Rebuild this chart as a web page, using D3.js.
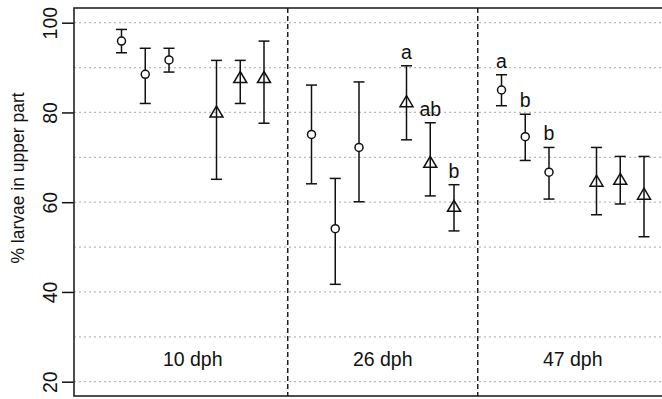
<!DOCTYPE html>
<html>
<head>
<meta charset="utf-8">
<script src="https://cdn.jsdelivr.net/npm/d3@7"></script>
<style>
  html, body { margin: 0; padding: 0; background: #fff; }
  svg { display: block; font-family: "Liberation Sans", Arial, Helvetica, sans-serif; }
</style>
</head>
<body>
<div id="chart"></div>
<script>
// ages (groups) along the x axis
const groups = ['10 dph', '26 dph', '47 dph'];

// circles (first three treatments in each group)
const circleMean  = [[95.9, 88.5, 91.7], [75.1, 54.1, 72.2], [85.0, 74.6, 66.7]];
const circleUpper = [[98.5, 94.3, 94.3], [86.1, 65.3, 86.8], [88.4, 79.6, 72.2]];
const circleLower = [[93.3, 82.0, 89.0], [64.1, 41.7, 60.1], [81.5, 69.3, 60.7]];

// triangles (last three treatments in each group)
const triMean  = [[80.2, 87.9, 87.9], [82.5, 69.0, 59.2], [64.8, 65.2, 61.9]];
const triUpper = [[91.6, 91.6, 95.9], [90.4, 77.7, 63.9], [72.2, 70.2, 70.2]];
const triLower = [[65.1, 82.0, 77.6], [73.9, 61.4, 53.6], [57.2, 59.6, 52.3]];

// significance letters ('' = none)
const circleLetters = [['', '', ''], ['', '', ''], ['a', 'b', 'b']];
const triLetters    = [['', '', ''], ['a', 'ab', 'b'], ['', '', '']];

const yTicks = [20, 40, 60, 80, 100];
const yGrid = [20, 30, 40, 50, 60, 70, 80, 90, 100];

const width = 662;
const height = 399;
const plot = { left: 74, top: 8, bottom: 396 };
const fontSize = 19.5;

const svg = d3.select('#chart')
    .append('svg')
    .attr('width', width)
    .attr('height', height);

// slot positions: 8 slots per group, circles at 1-3, triangles at 5-7
const xScale = d3.scaleLinear().domain([-1, 25]).range([plot.left, plot.left + 26 * 23.75]);
const yScale = d3.scaleLinear().domain([20, 100]).range([381.7, 22.7]);

// build point list
const points = [];
groups.forEach((g, gi) => {
    for (let k = 0; k < 3; k++) {
        points.push({ shape: 'circle', pos: gi * 8 + 1 + k, mean: circleMean[gi][k], hi: circleUpper[gi][k], lo: circleLower[gi][k], letter: circleLetters[gi][k] });
    }
    for (let k = 0; k < 3; k++) {
        points.push({ shape: 'tri', pos: gi * 8 + 5 + k, mean: triMean[gi][k], hi: triUpper[gi][k], lo: triLower[gi][k], letter: triLetters[gi][k] });
    }
});

// Grid
svg.append('g')
    .selectAll('line')
    .data(yGrid)
    .enter()
    .append('line')
    .attr('x1', plot.left)
    .attr('x2', width)
    .attr('y1', d => yScale(d))
    .attr('y2', d => yScale(d))
    .attr('stroke', '#b8b8b8')
    .attr('stroke-width', 1.2)
    .attr('stroke-dasharray', '2 3');

// Group separators
svg.append('g')
    .selectAll('line')
    .data([8, 16])
    .enter()
    .append('line')
    .attr('x1', d => xScale(d))
    .attr('x2', d => xScale(d))
    .attr('y1', plot.top)
    .attr('y2', plot.bottom)
    .attr('stroke', '#111')
    .attr('stroke-width', 1.4)
    .attr('stroke-dasharray', '5 3');

// Group labels
svg.append('g')
    .selectAll('text')
    .data(groups)
    .enter()
    .append('text')
    .attr('x', (d, i) => xScale(i * 8 + 4))
    .attr('y', yScale(25))
    .attr('dy', '0.35em')
    .attr('text-anchor', 'middle')
    .attr('font-size', fontSize)
    .attr('fill', '#111')
    .text(d => d);

// Error bars
const capW = 5.5;
const bars = svg.append('g').attr('stroke', '#111').attr('stroke-width', 1.5).attr('fill', 'none');
points.forEach(p => {
    const x = xScale(p.pos);
    bars.append('line').attr('x1', x).attr('x2', x).attr('y1', yScale(p.hi)).attr('y2', yScale(p.lo));
    bars.append('line').attr('x1', x - capW).attr('x2', x + capW).attr('y1', yScale(p.hi)).attr('y2', yScale(p.hi));
    bars.append('line').attr('x1', x - capW).attr('x2', x + capW).attr('y1', yScale(p.lo)).attr('y2', yScale(p.lo));
});

// Markers
const marks = svg.append('g').attr('stroke', '#111').attr('stroke-width', 1.5).attr('fill', '#fff');
points.forEach(p => {
    const x = xScale(p.pos);
    const y = yScale(p.mean);
    if (p.shape === 'circle') {
        marks.append('circle').attr('cx', x).attr('cy', y).attr('r', 4);
    } else {
        const h = 11, w = 13;
        marks.append('path')
            .attr('fill', 'none')
            .attr('d', `M${x},${y - h / 2}L${x + w / 2},${y + h / 2}L${x - w / 2},${y + h / 2}Z`);
    }
});

// Letters
svg.append('g')
    .selectAll('text')
    .data(points.filter(p => p.letter))
    .enter()
    .append('text')
    .attr('x', d => xScale(d.pos))
    .attr('y', d => yScale(d.hi) - 7)
    .attr('text-anchor', 'middle')
    .attr('font-size', fontSize)
    .attr('fill', '#111')
    .text(d => d.letter);

// Y axis
const yAxis = svg.append('g')
    .attr('transform', `translate(${plot.left},0)`)
    .call(d3.axisLeft(yScale).tickValues(yTicks).tickSize(12).tickSizeOuter(0));
yAxis.select('.domain').remove();
yAxis.selectAll('.tick line').attr('stroke', '#111').attr('stroke-width', 1.5);
yAxis.selectAll('.tick text')
    .attr('transform', 'rotate(-90)')
    .attr('x', 0)
    .attr('y', -17)
    .attr('dy', 0)
    .attr('text-anchor', 'middle')
    .attr('font-size', fontSize)
    .attr('font-family', '"Liberation Sans", Arial, Helvetica, sans-serif')
    .attr('fill', '#111');

svg.append('text')
    .attr('transform', `translate(24,178) rotate(-90)`)
    .attr('text-anchor', 'middle')
    .attr('font-size', 17.5)
    .attr('fill', '#111')
    .text('% larvae in upper part');

// Frame (right side falls outside the picture)
svg.append('rect')
    .attr('x', plot.left)
    .attr('y', plot.top)
    .attr('width', xScale(25) - plot.left)
    .attr('height', plot.bottom - plot.top)
    .attr('fill', 'none')
    .attr('stroke', '#222')
    .attr('stroke-width', 1.6);
</script>
</body>
</html>
